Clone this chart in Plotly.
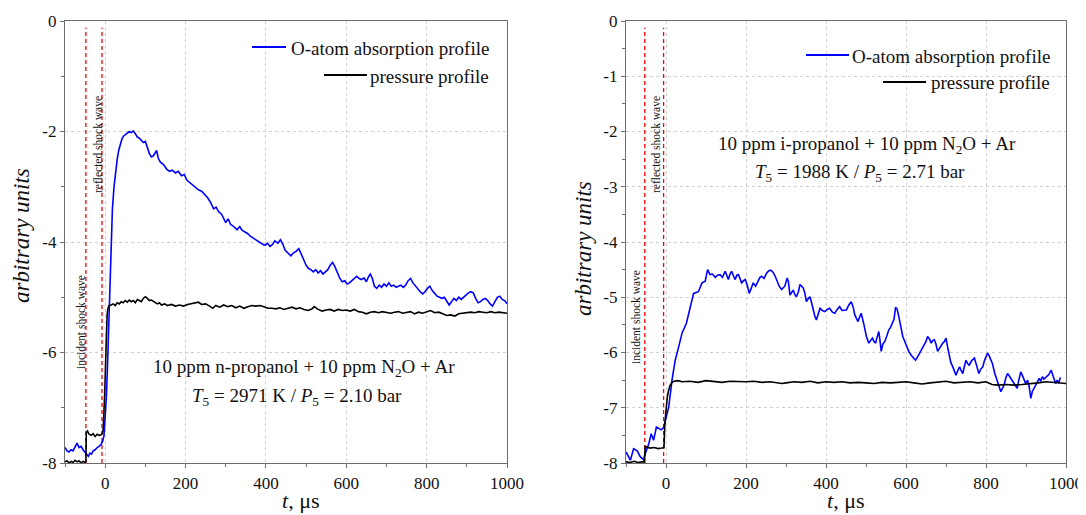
import plotly.graph_objects as go

# ---------------- data: left panel (n-propanol) ----------------
t_o_left = [-100,-95,-90,-85,-80,-75,-70,-65,-60,-55,-50,-46,-42,-38,-34,-30,-25,-20,-15,-10,-6,-3,0,3,6,9,12,15,18,22,26,30,34,38,42,46,50,55,60,65,70,75,80,85,90,95,100,105,110,115,120,125,128,132,137,145,153,160,167,175,182,190,197,203,210,218,226,233,240,248,255,262,270,276,282,290,296,300,306,312,320,328,335,340,348,355,362,370,378,386,392,398,404,410,416,422,430,436,442,448,455,462,468,475,482,488,494,500,506,512,518,524,530,536,542,548,554,560,566,572,578,584,590,596,602,608,614,620,626,632,638,644,650,656,660,665,670,676,682,688,694,700,706,712,718,724,730,736,742,748,754,760,766,772,778,784,790,796,802,808,814,820,826,832,838,844,850,856,862,868,874,880,886,892,898,904,910,916,922,928,934,940,946,952,958,964,970,976,982,988,994,1000]
o_left = [-7.72,-7.78,-7.8,-7.76,-7.78,-7.7,-7.64,-7.72,-7.7,-7.76,-7.8,-7.84,-7.88,-7.82,-7.84,-7.78,-7.76,-7.72,-7.7,-7.66,-7.6,-7.5,-7.2,-6.8,-6.2,-5.5,-4.6,-3.9,-3.4,-3.0,-2.72,-2.5,-2.33,-2.22,-2.13,-2.08,-2.06,-2.04,-2.0,-2.02,-1.99,-2.04,-2.1,-2.12,-2.16,-2.2,-2.18,-2.3,-2.4,-2.46,-2.44,-2.38,-2.34,-2.48,-2.55,-2.6,-2.68,-2.72,-2.7,-2.75,-2.72,-2.8,-2.78,-2.88,-2.92,-2.96,-3.02,-3.06,-3.08,-3.14,-3.2,-3.28,-3.4,-3.37,-3.45,-3.5,-3.6,-3.65,-3.58,-3.68,-3.72,-3.78,-3.72,-3.78,-3.82,-3.85,-3.9,-3.94,-3.98,-4.02,-4.04,-4.06,-4.02,-4.08,-4.05,-3.98,-4.02,-3.96,-4.04,-4.15,-4.2,-4.25,-4.2,-4.17,-4.12,-4.22,-4.3,-4.42,-4.48,-4.5,-4.54,-4.5,-4.56,-4.52,-4.58,-4.54,-4.5,-4.42,-4.37,-4.45,-4.55,-4.66,-4.72,-4.7,-4.76,-4.74,-4.7,-4.65,-4.62,-4.66,-4.68,-4.65,-4.72,-4.62,-4.58,-4.66,-4.8,-4.84,-4.78,-4.82,-4.76,-4.8,-4.74,-4.8,-4.78,-4.82,-4.8,-4.78,-4.82,-4.78,-4.7,-4.66,-4.74,-4.8,-4.86,-4.9,-4.94,-4.9,-4.84,-4.8,-4.88,-4.94,-4.98,-5.0,-5.02,-5.0,-5.06,-5.14,-5.08,-5.02,-5.06,-5.0,-5.04,-5.0,-4.95,-4.92,-4.9,-4.92,-5.02,-5.1,-5.08,-5.04,-5.02,-5.06,-5.12,-5.16,-5.08,-5.0,-4.98,-5.04,-5.06,-5.12]

t_p_left = [-100,-95,-90,-85,-80,-75,-70,-65,-60,-55,-50,-48,-47,-44,-40,-35,-30,-25,-20,-15,-10,-7,-5,-3,-1,1,3,5,7,10,15,20,25,30,35,40,45,50,55,60,65,70,75,80,85,90,95,100,105,110,115,120,125,130,135,140,148,155,165,175,185,195,205,215,225,232,240,250,260,268,275,285,295,305,315,325,335,345,355,365,375,385,395,405,415,425,435,445,455,465,475,485,495,505,515,520,530,540,550,560,570,580,590,600,610,620,630,640,650,660,670,680,690,700,710,720,730,740,750,760,770,780,790,800,810,820,830,840,850,860,870,880,890,900,910,920,930,940,950,960,970,980,990,1000]
p_left = [-7.98,-7.96,-8.0,-7.97,-7.99,-7.95,-7.98,-7.96,-8.0,-7.97,-7.99,-7.98,-7.45,-7.42,-7.48,-7.5,-7.47,-7.52,-7.48,-7.5,-7.49,-7.46,-7.4,-7.1,-6.7,-6.2,-5.6,-5.3,-5.2,-5.15,-5.14,-5.12,-5.15,-5.1,-5.12,-5.08,-5.1,-5.06,-5.09,-5.05,-5.08,-5.06,-5.1,-5.04,-5.06,-5.08,-5.02,-4.99,-5.02,-5.06,-5.05,-5.07,-5.1,-5.12,-5.1,-5.14,-5.12,-5.15,-5.13,-5.16,-5.14,-5.16,-5.13,-5.12,-5.1,-5.09,-5.13,-5.12,-5.16,-5.2,-5.15,-5.18,-5.14,-5.17,-5.15,-5.19,-5.16,-5.2,-5.17,-5.15,-5.16,-5.15,-5.17,-5.2,-5.2,-5.21,-5.19,-5.22,-5.2,-5.18,-5.21,-5.19,-5.22,-5.24,-5.21,-5.17,-5.22,-5.25,-5.23,-5.22,-5.25,-5.22,-5.24,-5.23,-5.25,-5.22,-5.26,-5.27,-5.3,-5.27,-5.26,-5.28,-5.26,-5.27,-5.29,-5.27,-5.26,-5.29,-5.27,-5.26,-5.3,-5.27,-5.29,-5.27,-5.24,-5.28,-5.27,-5.3,-5.33,-5.32,-5.34,-5.3,-5.29,-5.28,-5.27,-5.28,-5.26,-5.27,-5.28,-5.26,-5.28,-5.27,-5.28,-5.29]

shock_left = [-48, -8]   # incident, reflected shock arrival (µs)

# ---------------- data: right panel (i-propanol) ----------------
t_o_right = [-100,-89,-81,-72,-64,-56,-52,-43,-37,-31,-24,-18,-12,-6,0,7,15,23,32,40,51,59,69,81,90,98,104,110,116,123,129,135,141,148,152,156,160,164,169,173,177,181,185,189,194,198,203,208,213,218,224,231,235,239,245,252,257,262,268,273,277,283,289,293,297,303,306,310,314,318,322,326,331,335,339,343,347,351,356,360,364,368,372,376,380,385,391,397,403,409,416,422,428,434,440,446,451,457,463,468,472,476,480,484,488,495,501,507,512,516,520,524,528,532,535,538,542,547,552,557,561,566,570,574,578,582,587,592,597,602,607,613,618,624,629,634,640,646,650,654,659,663,667,671,675,679,685,692,696,700,704,708,712,717,721,725,730,734,738,742,746,750,754,758,764,771,776,782,787,792,796,800,804,808,812,816,822,829,833,837,841,845,850,854,858,862,866,870,874,878,882,887,893,899,904,908,912,916,922,928,933,937,941,945,951,957,963,970,974,978,982,986,990,995,1000]
o_right = [-7.8,-7.95,-7.74,-7.78,-7.89,-7.94,-7.83,-7.65,-7.47,-7.59,-7.35,-7.37,-7.4,-7.36,-7.19,-6.98,-6.5,-6.14,-5.89,-5.65,-5.47,-5.23,-4.93,-4.9,-4.74,-4.71,-4.5,-4.59,-4.58,-4.64,-4.6,-4.59,-4.64,-4.53,-4.6,-4.68,-4.58,-4.53,-4.62,-4.68,-4.6,-4.59,-4.66,-4.74,-4.7,-4.68,-4.78,-4.93,-4.84,-4.74,-4.8,-4.68,-4.64,-4.62,-4.66,-4.56,-4.52,-4.51,-4.55,-4.62,-4.7,-4.8,-4.86,-4.82,-4.8,-4.65,-4.72,-4.96,-4.9,-4.87,-4.95,-4.99,-4.9,-4.77,-4.8,-4.83,-4.92,-5.08,-5.02,-4.99,-5.1,-5.23,-5.34,-5.41,-5.32,-5.2,-5.24,-5.26,-5.22,-5.2,-5.27,-5.29,-5.22,-5.17,-5.24,-5.23,-5.23,-5.14,-5.08,-5.18,-5.32,-5.38,-5.44,-5.36,-5.29,-5.5,-5.71,-5.83,-5.78,-5.74,-5.8,-5.83,-5.72,-5.62,-5.78,-5.98,-5.85,-5.8,-5.7,-5.59,-5.55,-5.47,-5.4,-5.18,-5.22,-5.35,-5.52,-5.71,-5.8,-5.89,-5.98,-6.05,-6.1,-6.14,-6.08,-6.01,-5.95,-5.86,-5.8,-5.71,-5.76,-5.83,-5.78,-5.77,-5.85,-5.98,-5.9,-5.83,-5.8,-5.74,-5.9,-6.07,-6.18,-6.26,-6.35,-6.41,-6.32,-6.26,-6.33,-6.38,-6.25,-6.14,-6.2,-6.23,-6.15,-6.1,-6.22,-6.38,-6.3,-6.26,-6.15,-6.08,-6.01,-6.06,-6.14,-6.2,-6.38,-6.56,-6.62,-6.71,-6.65,-6.59,-6.45,-6.38,-6.42,-6.47,-6.52,-6.56,-6.6,-6.65,-6.5,-6.35,-6.45,-6.56,-6.5,-6.62,-6.83,-6.7,-6.62,-6.55,-6.47,-6.52,-6.44,-6.48,-6.44,-6.4,-6.32,-6.5,-6.56,-6.5,-6.55,-6.45]

t_p_right = [-100,-90,-80,-70,-60,-54,-52,-48,-40,-30,-20,-10,-5,-3,0,3,6,10,15,20,30,40,60,80,100,120,140,160,180,200,220,240,260,280,290,300,320,340,360,380,400,420,440,460,480,500,520,540,560,580,600,620,640,660,680,700,720,740,760,780,800,815,830,850,870,890,910,930,950,970,990,1000]
p_right = [-7.98,-7.99,-7.97,-7.99,-7.98,-7.98,-7.7,-7.71,-7.73,-7.72,-7.74,-7.73,-7.72,-7.3,-7.0,-6.82,-6.7,-6.6,-6.54,-6.52,-6.51,-6.53,-6.52,-6.54,-6.51,-6.53,-6.54,-6.52,-6.53,-6.53,-6.52,-6.54,-6.53,-6.55,-6.56,-6.55,-6.53,-6.54,-6.52,-6.55,-6.53,-6.54,-6.53,-6.55,-6.54,-6.55,-6.56,-6.54,-6.55,-6.54,-6.53,-6.55,-6.57,-6.55,-6.54,-6.52,-6.55,-6.54,-6.53,-6.55,-6.53,-6.58,-6.59,-6.58,-6.59,-6.58,-6.57,-6.55,-6.53,-6.54,-6.55,-6.56]

shock_right = [-53, -6]

# ---------------- axis ticks ----------------
x_tick_vals = [0, 200, 400, 600, 800, 1000]
x_tick_text = ["0", "200", "400", "600", "800", "1000"]
yl_tick_vals = [0, -2, -4, -6, -8]
yl_tick_text = ["0", "-2", "-4", "-6", "-8"]
yr_tick_vals = [0, -1, -2, -3, -4, -5, -6, -7, -8]
yr_tick_text = ["0", "-1", "-2", "-3", "-4", "-5", "-6", "-7", "-8"]

legend_o = "O-atom absorption profile"
legend_p = "pressure profile"

FONT = "Liberation Serif"
BLUE = "#0000ff"
AX = "#6e6e6e"
OFF = 8                      # page body margin in the browser
W, H = 1086 - OFF, 515 - OFF
ML, MR, MT, MB = 0, 20, 21 - OFF, 52
PW, PH = W - ML - MR, H - MT - MB


def px(x):                   # page pixel -> paper fraction
    return (x - OFF - ML) / PW


def py(y):
    return (H - MB - (y - OFF)) / PH


fig = go.Figure()

for xa, ya, t_o, o, t_p, p, shocks in [
    ("x", "y", t_o_left, o_left, t_p_left, p_left, shock_left),
    ("x2", "y2", t_o_right, o_right, t_p_right, p_right, shock_right),
]:
    for s in shocks:
        fig.add_trace(go.Scatter(x=[s, s], y=[-8, -0.12], mode="lines", xaxis=xa, yaxis=ya,
                                 line=dict(color="#ff0000", width=1.3, dash="4px,3px"),
                                 showlegend=False, hoverinfo="skip"))
    fig.add_trace(go.Scatter(x=t_o, y=o, mode="lines", xaxis=xa, yaxis=ya, name=legend_o,
                             line=dict(color=BLUE, width=1.6), showlegend=False))
    fig.add_trace(go.Scatter(x=t_p, y=p, mode="lines", xaxis=xa, yaxis=ya, name=legend_p,
                             line=dict(color="#000000", width=1.6), showlegend=False))

axis_common = dict(
    showline=True, linecolor=AX, linewidth=1.3, mirror=True,
    ticks="outside", ticklen=4, tickwidth=1.2, tickcolor=AX,
    showgrid=True, gridcolor="#d0d0d0", griddash="dot", gridwidth=1,
    zeroline=False, tickfont=dict(family=FONT, size=17, color="#111"),
)
mirror_common = dict(
    showline=False, ticks="inside", ticklen=4, tickwidth=1.2, tickcolor=AX,
    showgrid=False, zeroline=False, showticklabels=False,
)

fig.update_layout(
    width=W, height=H,
    margin=dict(l=ML, r=MR, t=MT, b=MB),
    paper_bgcolor="white", plot_bgcolor="white",
    showlegend=False,
    font=dict(family=FONT),
    xaxis=dict(domain=[px(65), px(507)], range=[-100, 1000], anchor="y",
               tickvals=x_tick_vals, ticktext=x_tick_text,
               minor=dict(dtick=100, tick0=0, ticks="outside", ticklen=3, tickcolor=AX, showgrid=False),
               **axis_common),
    yaxis=dict(domain=[0, 1], range=[-8, 0], anchor="x",
               tickvals=yl_tick_vals, ticktext=yl_tick_text,
               minor=dict(dtick=1, tick0=0, ticks="outside", ticklen=3, tickcolor=AX, showgrid=False),
               **axis_common),
    xaxis2=dict(domain=[px(626), px(1066)], range=[-100, 1000], anchor="y2",
                tickvals=x_tick_vals, ticktext=x_tick_text,
                minor=dict(dtick=100, tick0=0, ticks="outside", ticklen=3, tickcolor=AX, showgrid=False),
                **axis_common),
    yaxis2=dict(domain=[0, 1], range=[-8, 0], anchor="x2",
                tickvals=yr_tick_vals, ticktext=yr_tick_text,
                minor=dict(dtick=0.5, tick0=0, ticks="outside", ticklen=3, tickcolor=AX, showgrid=False),
                **axis_common),
    # mirrored inward ticks on top and right borders
    xaxis3=dict(overlaying="x", side="top", anchor="y", range=[-100, 1000], tickvals=x_tick_vals,
                minor=dict(dtick=100, tick0=0, ticks="inside", ticklen=2.5, tickcolor=AX, showgrid=False),
                **mirror_common),
    yaxis3=dict(overlaying="y", side="right", anchor="x", range=[-8, 0], tickvals=yl_tick_vals,
                minor=dict(dtick=1, tick0=0, ticks="inside", ticklen=2.5, tickcolor=AX, showgrid=False),
                **mirror_common),
    xaxis4=dict(overlaying="x2", side="top", anchor="y2", range=[-100, 1000], tickvals=x_tick_vals,
                minor=dict(dtick=100, tick0=0, ticks="inside", ticklen=2.5, tickcolor=AX, showgrid=False),
                **mirror_common),
    yaxis4=dict(overlaying="y2", side="right", anchor="x2", range=[-8, 0], tickvals=yr_tick_vals,
                minor=dict(dtick=0.5, tick0=0, ticks="inside", ticklen=2.5, tickcolor=AX, showgrid=False),
                **mirror_common),
)

ann = []
shapes = []


def text(x, y, s, size=19, angle=0, xanchor="center"):
    ann.append(dict(x=px(x), y=py(y), xref="paper", yref="paper", text=s, showarrow=False,
                    textangle=angle, xanchor=xanchor, yanchor="middle",
                    font=dict(family=FONT, size=size, color="#111")))


def legline(x0, x1, y, color):
    shapes.append(dict(type="line", xref="paper", yref="paper", x0=px(x0), x1=px(x1),
                       y0=py(y), y1=py(y), line=dict(color=color, width=1.8)))


# left panel texts
legline(252, 286, 47, BLUE)
text(491, 48, legend_o, xanchor="right")
legline(324, 367, 75, "#000")
text(491, 76, legend_p, xanchor="right")
text(304, 368, "10 ppm n-propanol + 10 ppm N<sub>2</sub>O + Ar")
text(297, 397, "<i>T</i><sub>5</sub> = 2971 K / <i>P</i><sub>5</sub> = 2.10 bar")
text(81, 322, "incident shock wave", size=11.5, angle=-90)
text(98, 145, "reflected shock wave", size=11.5, angle=-90)
text(21, 236, "<i>arbitrary units</i>", size=23, angle=-90)
text(300, 501, "<i>t</i>, μs", size=22)

# right panel texts
legline(806, 849, 55, BLUE)
text(1052, 56, legend_o, xanchor="right")
legline(883, 926, 82, "#000")
text(1052, 83, legend_p, xanchor="right")
text(867, 145, "10 ppm i-propanol + 10 ppm N<sub>2</sub>O + Ar")
text(860, 173, "<i>T</i><sub>5</sub> = 1988 K / <i>P</i><sub>5</sub> = 2.71 bar")
text(636, 317, "incident shock wave", size=11.5, angle=-90)
text(656, 145, "reflected shock wave", size=11.5, angle=-90)
text(584, 249, "<i>arbitrary units</i>", size=23, angle=-90)
text(845, 501, "<i>t</i>, μs", size=22)

fig.update_layout(annotations=ann, shapes=shapes)

fig.write_html("out.html")
